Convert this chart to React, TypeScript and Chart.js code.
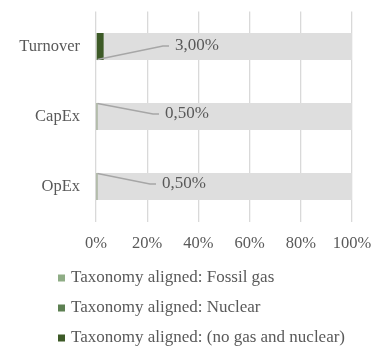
import React, { useEffect, useRef } from "react";
import { Chart, registerables } from "chart.js";

Chart.register(...registerables);

// Categories and values (percent of total)
const categories = ["Turnover", "CapEx", "OpEx"];
const fossilGas = [0, 0, 0];
const nuclear = [0, 0, 0];
const noGasNuclear = [3.0, 0.5, 0.5];
const remainder = [97.0, 99.5, 99.5];
const valueLabels = ["3,00%", "0,50%", "0,50%"];
const xTicks = [0, 20, 40, 60, 80, 100];

const legendLabels = [
  "Taxonomy aligned: Fossil gas",
  "Taxonomy aligned: Nuclear",
  "Taxonomy aligned: (no gas and nuclear)",
];

const FONT = '"Liberation Serif", "Times New Roman", serif';
const TEXT = "#595959";
const COLORS = ["#8fad86", "#5d8052", "#3d5a27"];

// Label placement relative to each bar: text left offset from the axis, vertical offset,
// and which corner of the bar the leader line starts from.
const labelDx = [79, 69, 66];
const labelDy = [-0.5, -2.5, -2.5];
const leaderFromBottom = [true, false, false];

const leaderLabels = {
  id: "leaderLabels",
  afterDatasetsDraw(chart: any) {
    const meta = chart.getDatasetMeta(2);
    const ctx = chart.ctx;
    const x0 = chart.scales.x.getPixelForValue(0);
    ctx.save();
    ctx.font = `17px ${FONT}`;
    ctx.textBaseline = "middle";
    ctx.textAlign = "left";
    meta.data.forEach((bar: any, i: number) => {
      const { y, height } = bar.getProps(["y", "height"], true);
      const tx = x0 + labelDx[i];
      const ty = y + labelDy[i];
      const sx = x0 + 1.5;
      const sy = leaderFromBottom[i] ? y + height / 2 - 0.5 : y - height / 2 + 0.5;
      ctx.strokeStyle = "#a6a6a6";
      ctx.lineWidth = 1.3;
      ctx.beginPath();
      ctx.moveTo(sx, sy);
      ctx.lineTo(tx - 12, ty);
      ctx.lineTo(tx - 6, ty);
      ctx.stroke();
      ctx.fillStyle = TEXT;
      ctx.fillText(valueLabels[i], tx, ty);
    });
    ctx.restore();
  },
};

const columnLegend = {
  id: "columnLegend",
  afterDraw(chart: any) {
    const ctx = chart.ctx;
    ctx.save();
    ctx.font = `17px ${FONT}`;
    ctx.textBaseline = "middle";
    ctx.textAlign = "left";
    legendLabels.forEach((label, i) => {
      const cy = 278 + i * 30;
      ctx.fillStyle = COLORS[i];
      ctx.fillRect(58, cy - 3.5, 7, 7);
      ctx.fillStyle = TEXT;
      ctx.fillText(label, 71, cy);
    });
    ctx.restore();
  },
};

export default function App() {
  const ref = useRef<HTMLCanvasElement>(null);

  useEffect(() => {
    if (!ref.current) return;
    const common = { categoryPercentage: 1, barPercentage: 0.386, borderWidth: 0 };
    const chart = new Chart(ref.current, {
      type: "bar",
      data: {
        labels: categories,
        datasets: [
          { label: legendLabels[0], data: fossilGas, backgroundColor: COLORS[0], ...common },
          { label: legendLabels[1], data: nuclear, backgroundColor: COLORS[1], ...common },
          { label: legendLabels[2], data: noGasNuclear, backgroundColor: COLORS[2], ...common },
          { label: "Other", data: remainder, backgroundColor: "#dedede", ...common },
        ],
      },
      options: {
        indexAxis: "y",
        animation: false,
        responsive: false,
        devicePixelRatio: 1,
        layout: { padding: { top: 11.5, right: 27, left: 0, bottom: 0 } },
        plugins: {
          legend: { display: false },
          tooltip: { enabled: false },
        },
        scales: {
          x: {
            stacked: true,
            min: 0,
            max: 100,
            afterBuildTicks: (scale: any) => {
              scale.ticks = xTicks.map((v) => ({ value: v }));
            },
            afterFit: (scale: any) => {
              scale.height = 127.5;
              scale.paddingLeft = 0;
              scale.paddingRight = 0;
            },
            ticks: {
              padding: 12,
              color: TEXT,
              font: { family: FONT, size: 16.5 },
              callback: (v: any) => `${v}%`,
              maxRotation: 0,
            },
            grid: { color: "#d9d9d9", lineWidth: 1.3, drawTicks: false },
            border: { display: false },
          },
          y: {
            stacked: true,
            afterFit: (scale: any) => {
              scale.width = 96;
              scale.paddingTop = 0;
              scale.paddingBottom = 0;
            },
            ticks: {
              padding: 16,
              color: TEXT,
              font: { family: FONT, size: 16.5 },
            },
            grid: { display: false, drawTicks: false },
            border: { display: false },
          },
        },
      },
      plugins: [leaderLabels, columnLegend],
    });
    return () => chart.destroy();
  }, []);

  return (
    <div style={{ position: "fixed", left: 0, top: 0, width: 379, height: 349, background: "#fff" }}>
      <canvas ref={ref} width={379} height={349} style={{ display: "block" }} />
    </div>
  );
}
